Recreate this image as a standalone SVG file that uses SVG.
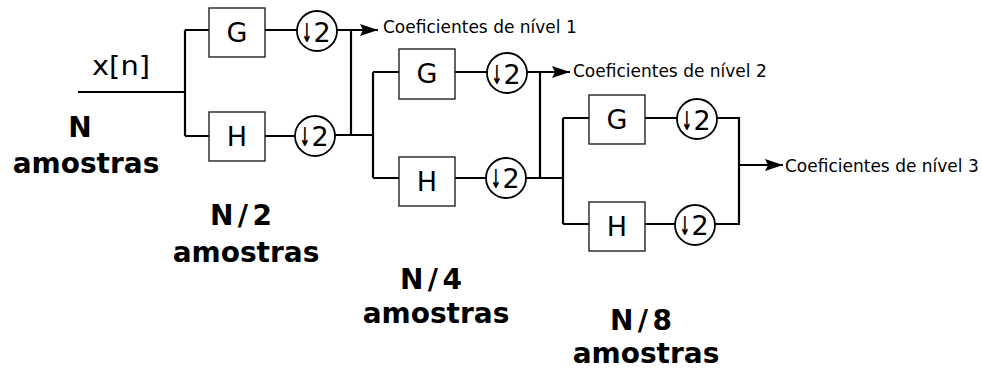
<svg xmlns="http://www.w3.org/2000/svg" width="982" height="374" viewBox="0 0 982 374">
<style>
.box{fill:#fff;stroke:#222;stroke-width:1.4}
.ds{fill:#fff;stroke:#000;stroke-width:1.8}
.w{fill:none;stroke:#000;stroke-width:2.2}
.lt{font-family:"DejaVu Sans",Verdana,sans-serif;font-size:27px;text-anchor:middle;fill:#000}
.arr{font-family:"DejaVu Sans",sans-serif;font-size:26px;font-weight:bold;text-anchor:middle;fill:#000}
.co{font-family:"DejaVu Sans",Verdana,sans-serif;font-size:17px;fill:#000}
.bd{font-family:"DejaVu Sans",Verdana,sans-serif;font-size:28px;font-weight:bold;text-anchor:middle;fill:#000}
</style>
<defs>
<marker id="ah" viewBox="0 0 18 12" markerWidth="18" markerHeight="12" refX="18" refY="6" markerUnits="userSpaceOnUse" orient="auto">
<path d="M0,0 L18,6 L0,12 L3,6 z" fill="#000"/>
</marker>
</defs>
<g id="connectors">
<path class="w" d="M78,92 H185 M185,30 V136 M185,30 H209 M185,136 H209"/>
<path class="w" d="M265,30 H297 M265,136 H295"/>
<path class="w" d="M337,30 H378" marker-end="url(#ah)"/>
<path class="w" d="M351,30 V135 M335,135 H373"/>
<path class="w" d="M373,72 V178 M373,72 H399 M373,178 H399"/>
<path class="w" d="M455,72 H487 M455,178 H486"/>
<path class="w" d="M527,72 H570" marker-end="url(#ah)"/>
<path class="w" d="M540,72 V178 M526,178 H563"/>
<path class="w" d="M563,118 V224 M563,118 H589 M563,224 H589"/>
<path class="w" d="M645,118 H677 M645,224 H675"/>
<path class="w" d="M717,118 H739 V224 H715"/>
<path class="w" d="M739,165 H783" marker-end="url(#ah)"/>
</g>
<g id="input-label"><text class="lt" x="121" y="75" textLength="58" lengthAdjust="spacingAndGlyphs">x[n]</text></g>
<g id="G1"><rect class="box" x="209" y="8" width="56" height="49"/><text class="lt" x="237" y="42">G</text></g>
<g id="H1"><rect class="box" x="209" y="112" width="56" height="49"/><text class="lt" x="237" y="146">H</text></g>
<g id="D1g"><circle class="ds" cx="317" cy="31" r="20"/><text class="arr" transform="translate(307,42) scale(0.5,1)">↓</text><text class="lt" x="322" y="42">2</text></g>
<g id="D1h"><circle class="ds" cx="315" cy="136" r="20"/><text class="arr" transform="translate(305,146) scale(0.5,1)">↓</text><text class="lt" x="320" y="146">2</text></g>
<g id="G2"><rect class="box" x="399" y="49" width="56" height="50"/><text class="lt" x="427" y="83">G</text></g>
<g id="H2"><rect class="box" x="399" y="157" width="56" height="49"/><text class="lt" x="427" y="191">H</text></g>
<g id="D2g"><circle class="ds" cx="507" cy="73" r="20"/><text class="arr" transform="translate(497,84) scale(0.5,1)">↓</text><text class="lt" x="512" y="84">2</text></g>
<g id="D2h"><circle class="ds" cx="506" cy="178" r="20"/><text class="arr" transform="translate(496,188) scale(0.5,1)">↓</text><text class="lt" x="511" y="188">2</text></g>
<g id="G3"><rect class="box" x="589" y="95" width="56" height="49"/><text class="lt" x="617" y="129">G</text></g>
<g id="H3"><rect class="box" x="589" y="202" width="56" height="49"/><text class="lt" x="617" y="236">H</text></g>
<g id="D3g"><circle class="ds" cx="697" cy="119" r="20"/><text class="arr" transform="translate(687,130) scale(0.5,1)">↓</text><text class="lt" x="702" y="130">2</text></g>
<g id="D3h"><circle class="ds" cx="695" cy="225" r="20"/><text class="arr" transform="translate(685,235) scale(0.5,1)">↓</text><text class="lt" x="700" y="235">2</text></g>
<g id="out1"><text class="co" x="383" y="33">Coeficientes de nível 1</text></g>
<g id="out2"><text class="co" x="573" y="77">Coeficientes de nível 2</text></g>
<g id="out3"><text class="co" x="785" y="172">Coeficientes de nível 3</text></g>
<g id="lab-N"><text class="bd" x="80" y="137">N</text><text class="bd" x="86" y="173">amostras</text></g>
<g id="lab-N2"><text class="bd" x="241" y="225" textLength="62" lengthAdjust="spacing">N/2</text><text class="bd" x="246" y="262">amostras</text></g>
<g id="lab-N4"><text class="bd" x="431" y="289" textLength="62" lengthAdjust="spacing">N/4</text><text class="bd" x="436" y="323">amostras</text></g>
<g id="lab-N8"><text class="bd" x="641" y="330" textLength="62" lengthAdjust="spacing">N/8</text><text class="bd" x="646" y="363">amostras</text></g>
</svg>
